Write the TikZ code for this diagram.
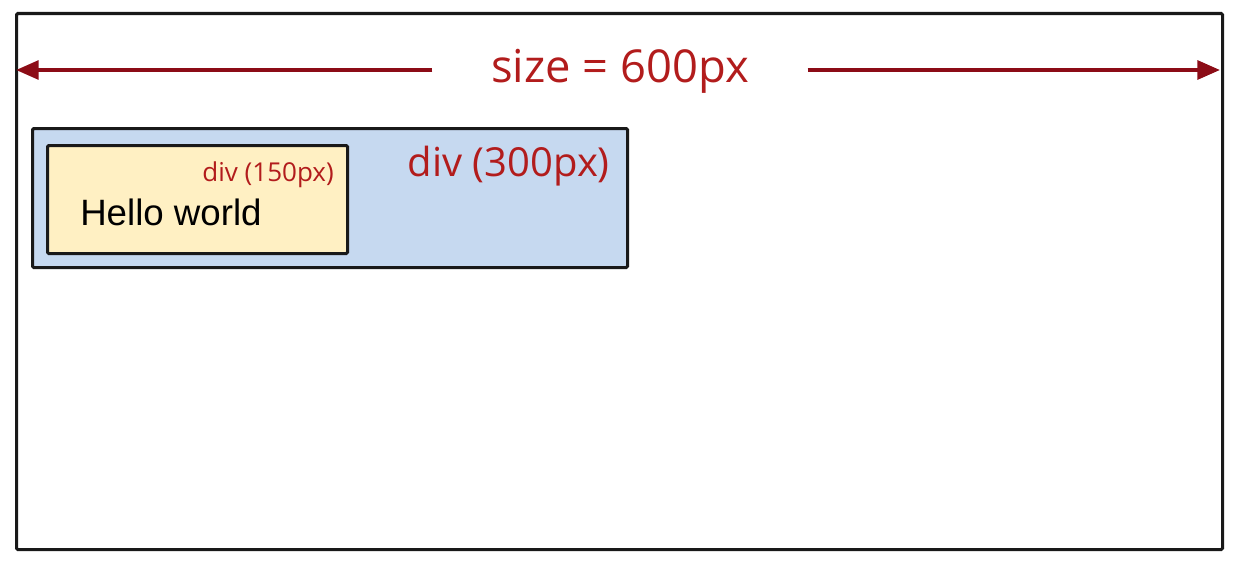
\documentclass[tikz,border=0pt]{standalone}
\usepackage{fontspec}
\setmainfont{Open Sans}
\newfontfamily\arialfont{Liberation Sans}
\usetikzlibrary{arrows.meta}
\definecolor{lblred}{RGB}{178,28,28}
\definecolor{arrred}{RGB}{140,12,22}
\definecolor{bluefill}{RGB}{198,217,240}
\definecolor{yelfill}{RGB}{255,240,195}
\tikzset{
  box/.style={draw=black!90, line width=2.3pt, rounded corners=1pt, anchor=north west, inner sep=0pt},
  redlbl/.style={text=lblred, inner sep=0pt},
}
\begin{document}
\begin{tikzpicture}[x=0.75pt,y=-0.75pt]
\useasboundingbox (0,0) rectangle (1234,560);
\node[box, fill=white, minimum width=904.5pt, minimum height=402pt] (outer) at (15,12) {};
\node[box, fill=bluefill, minimum width=446.25pt, minimum height=104.25pt] (blue) at (31,127) {};
\node[box, fill=yelfill, minimum width=225pt, minimum height=81pt] (yel) at (46,144) {};
\coordinate (aL) at (16,70);
\coordinate (aR) at (1220,70);
\node[text=lblred, font=\fontsize{34}{38}\selectfont, minimum width=281pt, inner sep=0pt, minimum height=10pt] (lbl) at (620,71) {size = 600px};
\draw[arrred, line width=3pt, -{Triangle[length=17pt,width=14pt]}] (lbl.west |- aL) -- (aL);
\draw[arrred, line width=3pt, -{Triangle[length=17pt,width=14pt]}] (lbl.east |- aR) -- (aR);
\node[redlbl, anchor=base east, font=\fontsize{30}{34}\selectfont] (l300) at (610,176) {div (300px)};
\node[redlbl, anchor=base east, font=\fontsize{19.5}{23}\selectfont] (l150) at (334,181) {div (150px)};
\node[anchor=base west, inner sep=0pt, font=\arialfont\fontsize{27.5}{31}\selectfont] (hw) at (80,225) {Hello world};
\end{tikzpicture}
\end{document}
